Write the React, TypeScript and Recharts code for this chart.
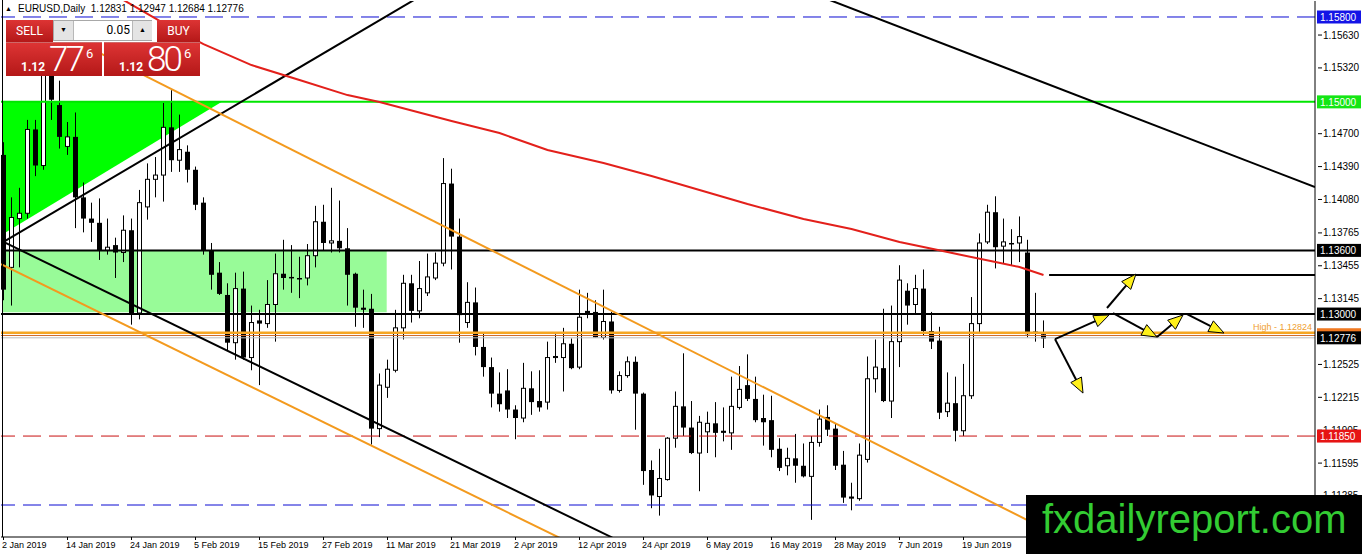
import React from 'react'
import { ComposedChart, Bar, Line, XAxis, YAxis, ReferenceLine, ReferenceArea } from 'recharts'

// EURUSD daily, 2 Jan - 3 Jul 2019 (bar index 0..130)
const opens = [
  1.1450, 1.1344, 1.1390, 1.1395, 1.1474, 1.1440, 1.1540, 1.1497, 1.1458, 1.1467,
  1.1410, 1.1390, 1.1386, 1.1360, 1.1365, 1.1358, 1.1379, 1.1301, 1.1401, 1.1427,
  1.1431, 1.1476, 1.1445, 1.1453, 1.1436, 1.1405, 1.1360, 1.1339, 1.1318, 1.1273,
  1.1324, 1.1259, 1.1294, 1.1291, 1.1309, 1.1338, 1.1335, 1.1334, 1.1334, 1.1355,
  1.1387, 1.1367, 1.1369, 1.1362, 1.1338, 1.1306, 1.1305, 1.1192, 1.1231, 1.1247,
  1.1287, 1.1329, 1.1303, 1.1320, 1.1334, 1.1348, 1.1423, 1.1373, 1.1292, 1.1311,
  1.1269, 1.1250, 1.1225, 1.1228, 1.1210, 1.1202, 1.1230, 1.1218, 1.1217, 1.1259,
  1.1259, 1.1272, 1.1250, 1.1303, 1.1302, 1.1278, 1.1293, 1.1228, 1.1242, 1.1255,
  1.1225, 1.1153, 1.1128, 1.1144, 1.1183, 1.1213, 1.1193, 1.1169, 1.1189, 1.1197,
  1.1190, 1.1188, 1.1212, 1.1233, 1.1220, 1.1202, 1.1200, 1.1173, 1.1157, 1.1164,
  1.1157, 1.1147, 1.1179, 1.1203, 1.1192, 1.1158, 1.1128, 1.1126, 1.1163, 1.1239,
  1.1249, 1.1218, 1.1274, 1.1322, 1.1309, 1.1324, 1.1284, 1.1275, 1.1208, 1.1216,
  1.1190, 1.1223, 1.1291, 1.1368, 1.1396, 1.1364, 1.1367, 1.1367, 1.1358, 1.1282,
  1.1281,
]
const highs = [
  1.1462, 1.1410, 1.1419, 1.1483, 1.1483, 1.1570, 1.1545, 1.1520, 1.1481, 1.1490,
  1.1424, 1.1405, 1.1409, 1.1390, 1.1372, 1.1393, 1.1390, 1.1417, 1.1442, 1.1448,
  1.1499, 1.1511, 1.1488, 1.1459, 1.1439, 1.1410, 1.1367, 1.1349, 1.1329, 1.1339,
  1.1340, 1.1308, 1.1304, 1.1332, 1.1357, 1.1370, 1.1365, 1.1354, 1.1366, 1.1402,
  1.1403, 1.1419, 1.1407, 1.1381, 1.1339, 1.1323, 1.1319, 1.1244, 1.1257, 1.1304,
  1.1337, 1.1337, 1.1350, 1.1357, 1.1358, 1.1447, 1.1437, 1.1390, 1.1330, 1.1325,
  1.1283, 1.1259, 1.1245, 1.1248, 1.1214, 1.1254, 1.1246, 1.1247, 1.1274, 1.1281,
  1.1287, 1.1277, 1.1323, 1.1320, 1.1313, 1.1323, 1.1302, 1.1246, 1.1260, 1.1260,
  1.1226, 1.1162, 1.1173, 1.1184, 1.1227, 1.1263, 1.1218, 1.1204, 1.1208, 1.1217,
  1.1212, 1.1241, 1.1251, 1.1262, 1.1241, 1.1224, 1.1223, 1.1183, 1.1174, 1.1187,
  1.1178, 1.1185, 1.1210, 1.1214, 1.1197, 1.1171, 1.1141, 1.1178, 1.1260, 1.1276,
  1.1305, 1.1308, 1.1346, 1.1329, 1.1337, 1.1342, 1.1302, 1.1288, 1.1245, 1.1241,
  1.1253, 1.1316, 1.1376, 1.1403, 1.1411, 1.1390, 1.1380, 1.1392, 1.1370, 1.1320,
  1.1294,
]
const lows = [
  1.1313, 1.1308, 1.1344, 1.1390, 1.1430, 1.1436, 1.1483, 1.1456, 1.1450, 1.1381,
  1.1377, 1.1368, 1.1351, 1.1356, 1.1334, 1.1349, 1.1290, 1.1295, 1.1389, 1.1410,
  1.1406, 1.1434, 1.1434, 1.1424, 1.1398, 1.1356, 1.1323, 1.1318, 1.1266, 1.1257,
  1.1257, 1.1247, 1.1233, 1.1287, 1.1274, 1.1323, 1.1320, 1.1315, 1.1327, 1.1344,
  1.1360, 1.1358, 1.1358, 1.1308, 1.1288, 1.1287, 1.1177, 1.1184, 1.1221, 1.1245,
  1.1276, 1.1292, 1.1296, 1.1317, 1.1332, 1.1345, 1.1342, 1.1273, 1.1287, 1.1261,
  1.1241, 1.1212, 1.1208, 1.1202, 1.1182, 1.1198, 1.1205, 1.1208, 1.1210, 1.1254,
  1.1227, 1.1248, 1.1248, 1.1296, 1.1278, 1.1276, 1.1225, 1.1226, 1.1240, 1.1191,
  1.1139, 1.1117, 1.1110, 1.1143, 1.1174, 1.1185, 1.1168, 1.1133, 1.1169, 1.1165,
  1.1180, 1.1172, 1.1210, 1.1218, 1.1198, 1.1176, 1.1165, 1.1152, 1.1148, 1.1141,
  1.1146, 1.1106, 1.1175, 1.1185, 1.1153, 1.1122, 1.1115, 1.1124, 1.1160, 1.1226,
  1.1217, 1.1202, 1.1250, 1.1290, 1.1300, 1.1280, 1.1267, 1.1201, 1.1203, 1.1180,
  1.1185, 1.1220, 1.1283, 1.1366, 1.1343, 1.1348, 1.1346, 1.1349, 1.1278, 1.1274,
  1.1268,
]
const closes = [
  1.1323, 1.1391, 1.1395, 1.1474, 1.1440, 1.1540, 1.1502, 1.1467, 1.1467, 1.1410,
  1.1390, 1.1386, 1.1360, 1.1363, 1.1358, 1.1379, 1.1301, 1.1405, 1.1427, 1.1431,
  1.1476, 1.1445, 1.1455, 1.1436, 1.1403, 1.1360, 1.1337, 1.1319, 1.1273, 1.1324,
  1.1259, 1.1292, 1.1291, 1.1309, 1.1338, 1.1334, 1.1334, 1.1333, 1.1355, 1.1387,
  1.1367, 1.1369, 1.1362, 1.1337, 1.1306, 1.1304, 1.1192, 1.1233, 1.1248, 1.1287,
  1.1329, 1.1303, 1.1324, 1.1335, 1.1348, 1.1423, 1.1373, 1.1299, 1.1311, 1.1269,
  1.1250, 1.1225, 1.1215, 1.1210, 1.1202, 1.1230, 1.1217, 1.1212, 1.1259, 1.1260,
  1.1272, 1.1249, 1.1297, 1.1301, 1.1278, 1.1293, 1.1228, 1.1242, 1.1255, 1.1225,
  1.1152, 1.1129, 1.1145, 1.1183, 1.1213, 1.1193, 1.1169, 1.1198, 1.1197, 1.1188,
  1.1188, 1.1213, 1.1229, 1.1220, 1.1200, 1.1198, 1.1172, 1.1155, 1.1164, 1.1157,
  1.1147, 1.1179, 1.1201, 1.1191, 1.1157, 1.1127, 1.1126, 1.1167, 1.1239, 1.1250,
  1.1218, 1.1274, 1.1332, 1.1308, 1.1324, 1.1284, 1.1274, 1.1207, 1.1216, 1.1190,
  1.1223, 1.1291, 1.1367, 1.1396, 1.1363, 1.1368, 1.1367, 1.1373, 1.1281, 1.1283,
  1.1277,
]

// red moving average, read at a few bars
const maBars = [13, 15, 20, 25, 31, 37, 43, 47, 56, 62, 68, 75, 81, 87, 93, 100, 106, 112, 118, 124, 127, 130]
const maValues = [
  1.16045, 1.15960, 1.15743, 1.15545, 1.15347, 1.15206, 1.15064, 1.14998, 1.14819, 1.14706, 1.14546,
  1.14423, 1.14301, 1.14169, 1.14037, 1.13896, 1.13801, 1.13679, 1.13584, 1.13490, 1.13443, 1.13368,
]

const dateBars = [0, 8, 16, 24, 32, 40, 48, 56, 64, 72, 80, 88, 96, 104, 112, 120]
const dateLabels = [
  '2 Jan 2019', '14 Jan 2019', '24 Jan 2019', '5 Feb 2019', '15 Feb 2019', '27 Feb 2019',
  '11 Mar 2019', '21 Mar 2019', '2 Apr 2019', '12 Apr 2019', '24 Apr 2019', '6 May 2019',
  '16 May 2019', '28 May 2019', '7 Jun 2019', '19 Jun 2019',
]

const priceTicks = [
  1.1563, 1.1532, 1.147, 1.1439, 1.1408, 1.13765, 1.13455, 1.13145,
  1.12525, 1.12215, 1.11905, 1.11595, 1.11285,
]
// coloured price labels; the orange one sits under the bid label and shows no text
const levelPrices = [1.158, 1.15, 1.136, 1.13, 1.12805, 1.12776, 1.1185]
const levelColors = ['#1414e6', '#14e614', '#000000', '#000000', '#f07820', '#000000', '#e61414']
const levelShowText = [true, true, true, true, false, true, true]

// trend lines as [bar, price, bar, price]
const blackRising = [0, 1.1368, 53.3, 1.16049]
const blackFalling = [0, 1.1368, 76.1, 1.10893]
const blackUpperRight = [100.8, 1.16032, 163.94, 1.14197]
const orangeUpper = [12.06, 1.1546, 129.6, 1.10996]
const orangeLower = [-0.3, 1.13471, 69.56, 1.10889]
const resistanceStub = [130.7, 1.13368, 163.94, 1.13368]

// projected path arrows
const arrowPaths = [
  [131.44, 1.12764, 138.19, 1.12991],
  [131.44, 1.12764, 134.94, 1.12255],
  [137.94, 1.13057, 141.56, 1.13377],
  [138.69, 1.13009, 144.19, 1.12783],
  [144.19, 1.12783, 147.44, 1.12991],
  [147.94, 1.13, 152.56, 1.12821],
]

const data = opens.map((o, i) => {
  const k = maBars.indexOf(i)
  return { i, o, h: highs[i], l: lows[i], c: closes[i], ma: k >= 0 ? maValues[k] : undefined }
})

const AXIS_FONT = '"Liberation Sans", Arial, sans-serif'

function Candle(props: any) {
  const { x, y, width, height, payload } = props
  if (!payload) return null
  const top = Math.min(y, y + height)
  const bot = Math.max(y, y + height)
  const span = payload.h - payload.l
  const py = (p: number) => (span > 0 ? top + ((payload.h - p) / span) * (bot - top) : top)
  const cx = Math.round(x + width / 2) + 0.5
  const yo = py(payload.o)
  const yc = py(payload.c)
  const bt = Math.min(yo, yc)
  const bb = Math.max(yo, yc)
  const up = payload.c > payload.o
  return (
    <g>
      <line x1={cx} x2={cx} y1={top} y2={bot} stroke="#000" strokeWidth={1} />
      {up ? (
        <rect x={cx - 2} y={bt} width={4} height={Math.max(1, bb - bt)} fill="#fff" stroke="#000" strokeWidth={1} />
      ) : (
        <rect x={cx - 2.5} y={bt} width={5} height={Math.max(1.5, bb - bt)} fill="#000" />
      )}
    </g>
  )
}

function Arrow(props: any) {
  const { x1, y1, x2, y2 } = props
  const dx = x2 - x1
  const dy = y2 - y1
  const len = Math.hypot(dx, dy) || 1
  const ux = dx / len
  const uy = dy / len
  const hl = 15
  const hw = 6
  const bx = x2 - ux * hl
  const by = y2 - uy * hl
  const pts = `${x2},${y2} ${bx - uy * hw},${by + ux * hw} ${bx + uy * hw},${by - ux * hw}`
  return (
    <g>
      <line x1={x1} y1={y1} x2={bx} y2={by} stroke="#000" strokeWidth={2} />
      <polygon points={pts} fill="#fff01a" stroke="#000" strokeWidth={1} />
    </g>
  )
}

function Triangle(props: any) {
  const { x, y, width, height } = props
  return <polygon points={`${x},${y} ${x + width},${y} ${x},${y + height}`} fill="#00ff00" />
}

function PriceTick(props: any) {
  const { x, y, payload } = props
  const v = payload.value
  const k = levelPrices.indexOf(v)
  if (k >= 0) {
    return (
      <g>
        <rect x={x - 6} y={y - 6.5} width={44} height={13} fill={levelColors[k]} />
        {levelShowText[k] && (
          <text x={x - 3} y={y + 4} fill="#fff" fontSize={10} fontFamily={AXIS_FONT}>{v.toFixed(5)}</text>
        )}
      </g>
    )
  }
  return (
    <g>
      <line x1={x - 5} x2={x - 1} y1={y} y2={y} stroke="#000" />
      <text x={x} y={y + 3.5} fill="#000" fontSize={10} fontFamily={AXIS_FONT}>{v.toFixed(5)}</text>
    </g>
  )
}

function DateTick(props: any) {
  const { x, payload } = props
  const k = dateBars.indexOf(payload.value)
  return (
    <g>
      <line x1={x} x2={x} y1={537} y2={540} stroke="#000" />
      <text x={x - 1.5} y={548} fill="#000" fontSize={9} fontFamily={AXIS_FONT}>{dateLabels[k]}</text>
    </g>
  )
}

const seg = (s: number[]) => [{ x: s[0], y: s[1] }, { x: s[2], y: s[3] }]

const redFill = 'linear-gradient(#dd3434, #b41818)'

function TradePanel() {
  const big: React.CSSProperties = {
    position: 'absolute', top: 42, width: 96, height: 34, background: redFill,
    borderTop: '1px solid rgba(255,255,255,0.35)', boxSizing: 'border-box', color: '#fff',
    fontFamily: 'Roboto, sans-serif',
  }
  const tab: React.CSSProperties = {
    position: 'absolute', top: 20, height: 22, background: redFill, color: '#fff',
    fontFamily: 'Roboto, sans-serif', fontSize: 12, lineHeight: '22px', textAlign: 'center',
  }
  const btn: React.CSSProperties = {
    position: 'absolute', top: 0, width: 19, height: 19, background: '#e4e4e4',
    fontSize: 7, lineHeight: '19px', textAlign: 'center', color: '#000',
  }
  const priceParts = (cents: string, pip: string) => (
    <>
      <span style={{ position: 'absolute', left: 15, top: 18, fontSize: 12, fontWeight: 700, lineHeight: '12px' }}>1.12</span>
      <span style={{ position: 'absolute', left: 43, top: -1, fontSize: 35, fontWeight: 300, lineHeight: '35px', letterSpacing: -3 }}>{cents}</span>
      <span style={{ position: 'absolute', left: 80, top: 4, fontSize: 13, lineHeight: '13px' }}>{pip}</span>
    </>
  )
  return (
    <>
      <div style={{ position: 'absolute', left: 5, top: 4, fontSize: 7, lineHeight: '10px', color: '#000' }}>▲</div>
      <div style={{ position: 'absolute', left: 18, top: 3, fontSize: 10, lineHeight: '12px', fontFamily: AXIS_FONT, color: '#000', whiteSpace: 'pre' }}>
        EURUSD,Daily  1.12831 1.12947 1.12684 1.12776
      </div>
      <div style={{ ...tab, left: 6, width: 47 }}>SELL</div>
      <div style={{ ...tab, left: 157, width: 43 }}>BUY</div>
      <div style={{ position: 'absolute', left: 53, top: 20, width: 97, height: 19, border: '1px solid #a8a8a8', background: '#fff', fontFamily: 'Roboto, sans-serif' }}>
        <div style={{ ...btn, left: 0, borderRight: '1px solid #b8b8b8' }}>▼</div>
        <div style={{ position: 'absolute', left: 20, width: 56, top: 0, height: 19, lineHeight: '19px', fontSize: 12, textAlign: 'right', color: '#000' }}>0.05</div>
        <div style={{ ...btn, left: 78, borderLeft: '1px solid #b8b8b8' }}>▲</div>
      </div>
      <div style={{ ...big, left: 6 }}>{priceParts('77', '6')}</div>
      <div style={{ ...big, left: 104 }}>{priceParts('80', '6')}</div>
    </>
  )
}

export default function App() {
  return (
    <div style={{ position: 'fixed', left: 0, top: 0, width: 1362, height: 554, background: '#fff', overflow: 'hidden' }}>
      <ComposedChart width={1362} height={554} data={data} margin={{ top: 1, right: 0, bottom: 0, left: 1 }}>
        <XAxis
          dataKey="i" type="number" domain={[-0.3125, 163.9375]} allowDataOverflow
          ticks={dateBars} interval={0} tick={<DateTick />} tickLine={false}
          axisLine={{ stroke: '#000' }} height={17}
        />
        <YAxis
          orientation="right" type="number" domain={[1.108985, 1.159508]} allowDataOverflow
          ticks={[...priceTicks, ...levelPrices]} interval={0} tick={<PriceTick />} tickLine={false}
          axisLine={{ stroke: '#000' }} width={47}
        />

        <ReferenceArea x1={-0.06} x2={27.3} y1={1.13754} y2={1.1500} ifOverflow="hidden" shape={<Triangle />} />
        <ReferenceArea x1={-0.06} x2={47.9} y1={1.13018} y2={1.13595} ifOverflow="hidden" fill="#98fb98" fillOpacity={1} stroke="none" />

        <ReferenceLine y={1.158} stroke="#0a0ad2" strokeDasharray="18 8" ifOverflow="hidden" />
        <ReferenceLine y={1.15} stroke="#00e600" strokeWidth={2} ifOverflow="hidden" />
        <ReferenceLine y={1.136} stroke="#000" strokeWidth={2} ifOverflow="hidden" />
        <ReferenceLine y={1.13} stroke="#000" strokeWidth={2} ifOverflow="hidden" />
        <ReferenceLine y={1.12776} stroke="#bdbdbd" strokeWidth={1} ifOverflow="hidden" />
        <ReferenceLine y={1.12798} stroke="#cf6a2a" strokeWidth={1} ifOverflow="hidden" />
        <ReferenceLine
          y={1.12824} stroke="#f5a623" strokeWidth={2.5} ifOverflow="hidden"
          label={{ value: 'High - 1.12824', position: 'insideBottomRight', offset: 3, fill: '#f0a030', fontSize: 9, fontFamily: AXIS_FONT }}
        />
        <ReferenceLine y={1.1185} stroke="#c81010" strokeDasharray="18 8" ifOverflow="hidden" />
        <ReferenceLine y={1.112} stroke="#0a0ad2" strokeDasharray="18 8" ifOverflow="hidden" />
        <ReferenceLine segment={seg(resistanceStub)} stroke="#000" strokeWidth={2} ifOverflow="hidden" />

        <ReferenceLine segment={seg(blackRising)} stroke="#000" strokeWidth={2} ifOverflow="hidden" />
        <ReferenceLine segment={seg(blackFalling)} stroke="#000" strokeWidth={2} ifOverflow="hidden" />
        <ReferenceLine segment={seg(blackUpperRight)} stroke="#000" strokeWidth={2} ifOverflow="hidden" />
        <ReferenceLine segment={seg(orangeUpper)} stroke="#f39a1e" strokeWidth={2} ifOverflow="hidden" />
        <ReferenceLine segment={seg(orangeLower)} stroke="#f39a1e" strokeWidth={2} ifOverflow="hidden" />

        <Bar dataKey={(d: any) => [d.l, d.h]} barSize={5} shape={<Candle />} isAnimationActive={false} />
        <Line dataKey="ma" stroke="#e3201b" strokeWidth={2} dot={false} connectNulls isAnimationActive={false} />

        {arrowPaths.map((a, k) => (
          <ReferenceLine key={k} segment={seg(a)} ifOverflow="visible" shape={<Arrow />} />
        ))}
      </ComposedChart>

      <div style={{ position: 'absolute', left: 2, top: 0, width: 1, height: 537, background: '#000' }} />
      <TradePanel />
      <div style={{ position: 'absolute', left: 1026, top: 495, width: 336, height: 59, background: '#000' }}>
        <span style={{ position: 'absolute', left: 16, top: 4, fontSize: 40, lineHeight: '40px', fontFamily: AXIS_FONT, color: '#33cc33', whiteSpace: 'nowrap' }}>
          fxdailyreport.com
        </span>
      </div>
    </div>
  )
}
